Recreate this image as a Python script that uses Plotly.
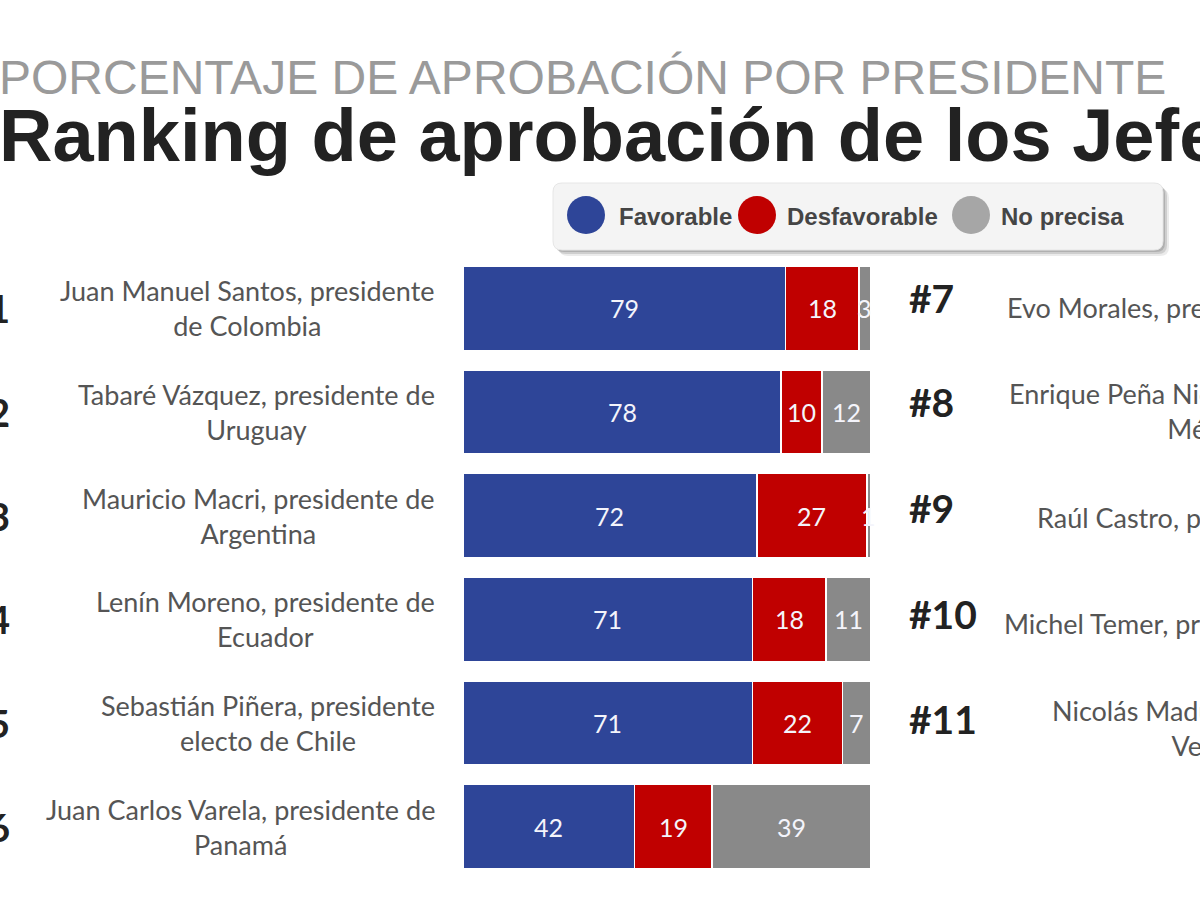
import plotly.graph_objects as go

# ---------------- data ----------------
ranks_left = ["#1", "#2", "#3", "#4", "#5", "#6"]
names_left = [
    "Juan Manuel Santos, presidente<br>de Colombia",
    "Tabaré Vázquez, presidente de<br>Uruguay",
    "Mauricio Macri, presidente de<br>Argentina",
    "Lenín Moreno, presidente de<br>Ecuador",
    "Sebastián Piñera, presidente<br>electo de Chile",
    "Juan Carlos Varela, presidente de<br>Panamá",
]
favorable = [79, 78, 72, 71, 71, 42]
desfavorable = [18, 10, 27, 18, 22, 19]
no_precisa = [3, 12, 1, 11, 7, 39]

ranks_right = ["#7", "#8", "#9", "#10", "#11"]
names_right = [
    "Evo Morales, presidente de Bolivia",
    "Enrique Peña Nieto, presidente de<br>México",
    "Raúl Castro, presidente de Cuba",
    "Michel Temer, presidente de Brasil",
    "Nicolás Maduro, presidente de<br>Venezuela",
]

series_names = ["Favorable", "Desfavorable", "No precisa"]
subtitle = "PORCENTAJE DE APROBACIÓN POR PRESIDENTE"
title = "Ranking de aprobación de los Jefes de Estado"

# ---------------- style ----------------
W, H = 1200, 900
BLUE = "#2E4598"
RED = "#C00000"
GRAY = "#898989"
LEG_GRAY = "#A6A6A6"
LABEL_FONT = "Lato, 'Open Sans', sans-serif"
HEAD_FONT = "'Liberation Sans', Arial, sans-serif"


def px(x):
    return x / W


def py(y):
    return 1 - y / H


cats = ranks_left
series = [favorable, desfavorable, no_precisa]
colors = [BLUE, RED, GRAY]
fig = go.Figure()
for vals, col, nm in zip(series, colors, series_names):
    fig.add_trace(go.Bar(
        y=cats, x=vals, orientation="h", name=nm,
        marker=dict(color=col, line=dict(color="white", width=1.5)),
        textposition="none", hoverinfo="skip",
    ))

# plot area: rows of 104px pitch, first row center 308.5
top_px, bot_px = 256.5, 878.5
fig.update_layout(
    width=W, height=H, margin=dict(l=0, r=0, t=0, b=0),
    barmode="stack", bargap=0.19, showlegend=False,
    paper_bgcolor="white", plot_bgcolor="white",
    xaxis=dict(domain=[px(463), px(871)], range=[0, 100], visible=False, fixedrange=True),
    yaxis=dict(domain=[py(bot_px), py(top_px)], autorange="reversed", visible=False,
               categoryorder="array", categoryarray=cats),
)

ann = []
# value labels centred in each segment (data coordinates)
for i, c in enumerate(cats):
    start = 0
    for vals in series:
        v = vals[i]
        ann.append(dict(text=str(v), x=start + v / 2, y=c, xref="x", yref="y",
                        xanchor="center", yanchor="middle", showarrow=False,
                        font=dict(family=LABEL_FONT, size=25, color="#f4f4fb")))
        start += v

# headings
ann.append(dict(text=subtitle, x=px(-3), y=py(77), xref="paper", yref="paper",
                xanchor="left", yanchor="middle", showarrow=False,
                font=dict(family=HEAD_FONT, size=48, color="#9a9a9a")))
ann.append(dict(text="<b>" + title + "</b>", x=px(-3), y=py(135), xref="paper", yref="paper",
                xanchor="left", yanchor="middle", showarrow=False,
                font=dict(family=HEAD_FONT, size=74, color="#222222")))

# left labels
for r, n in zip(ranks_left, names_left):
    ann.append(dict(text="<b>" + r + "</b>", x=px(12), y=r, xref="paper", yref="y",
                    xanchor="right", yanchor="middle", showarrow=False,
                    font=dict(family=LABEL_FONT, size=39, color="#222222")))
    ann.append(dict(text=n, x=px(437), y=r, xref="paper", yref="y",
                    xanchor="right", yanchor="middle", align="center", showarrow=False,
                    font=dict(family=LABEL_FONT, size=27, color="#555555")))

# right labels
right_rows_px = [301, 405, 511, 617, 722]
right_text_x = [1005, 1007, 1035, 1002, 1050]
for r, n, yy, tx in zip(ranks_right, names_right, right_rows_px, right_text_x):
    ann.append(dict(text="<b>" + r + "</b>", x=px(907), y=py(yy - 3), xref="paper", yref="paper",
                    xanchor="left", yanchor="middle", showarrow=False,
                    font=dict(family=LABEL_FONT, size=39, color="#222222")))
    ann.append(dict(text=n, x=px(tx), y=py(yy + 6), xref="paper", yref="paper",
                    xanchor="left", yanchor="middle", align="center", showarrow=False,
                    font=dict(family=LABEL_FONT, size=27, color="#555555")))

# legend box
shapes = []


def rrect(x0, y0, x1, y1, r):
    X0, X1 = px(x0), px(x1)
    Y0, Y1 = py(y0), py(y1)
    rx, ry = r / W, r / H
    return (f"M {X0+rx},{Y0} L {X1-rx},{Y0} Q {X1},{Y0} {X1},{Y0-ry} "
            f"L {X1},{Y1+ry} Q {X1},{Y1} {X1-rx},{Y1} L {X0+rx},{Y1} "
            f"Q {X0},{Y1} {X0},{Y1+ry} L {X0},{Y0-ry} Q {X0},{Y0} {X0+rx},{Y0} Z")


for off, op in [(6, 0.15), (4, 0.25), (2, 0.35)]:
    shapes.append(dict(type="path", xref="paper", yref="paper",
                       path=rrect(553 + off, 183 + off, 1163 + off, 250 + off, 9),
                       fillcolor="#777777", opacity=op, line=dict(width=0), layer="below"))
shapes.append(dict(type="path", xref="paper", yref="paper",
                   path=rrect(553, 183, 1163, 250, 9),
                   fillcolor="#f4f4f4", line=dict(color="#e6e6e6", width=1), layer="below"))

leg_items = [(586, BLUE, 617), (757, RED, 785), (971, LEG_GRAY, 999)]
for (cx, col, tx), nm in zip(leg_items, series_names):
    shapes.append(dict(type="circle", xref="paper", yref="paper",
                       x0=px(cx - 19), x1=px(cx + 19), y0=py(215 + 19), y1=py(215 - 19),
                       fillcolor=col, line=dict(width=0)))
    ann.append(dict(text="<b>" + nm + "</b>", x=px(tx), y=py(216), xref="paper", yref="paper",
                    xanchor="left", yanchor="middle", showarrow=False,
                    font=dict(family=HEAD_FONT, size=24, color="#454545")))

fig.update_layout(annotations=ann, shapes=shapes)
fig.write_html("out.html")
